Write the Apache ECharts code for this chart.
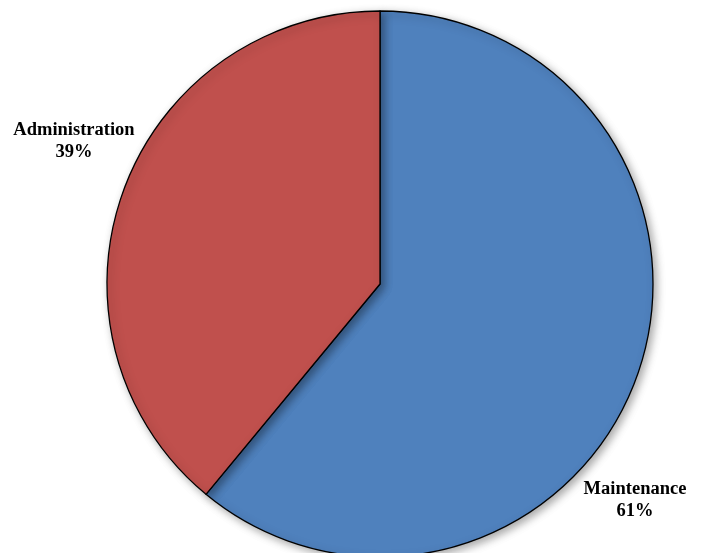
<!DOCTYPE html>
<html>
<head>
<meta charset="utf-8">
<style>html,body{margin:0;padding:0;background:#fff}#c{width:702px;height:553px}</style>
<script src="https://cdn.jsdelivr.net/npm/echarts@6/dist/echarts.min.js"></script>
</head>
<body>
<div id="c"></div>
<script>
var categories = ['Maintenance', 'Administration'];
var values = [61, 39];
var colors = ['#4F81BD', '#C0504D'];
var labelPos = [[635, 500], [74, 141]];

var chart = echarts.init(document.getElementById('c'), null, {renderer: 'canvas'});
chart.setOption({
  animation: false,
  backgroundColor: '#ffffff',
  series: [{
    type: 'pie',
    center: [380, 284],
    radius: [0, 273],
    startAngle: 90,
    clockwise: true,
    avoidLabelOverlap: false,
    data: categories.map(function (c, i) {
      return {name: c, value: values[i], itemStyle: {color: colors[i]}};
    }),
    itemStyle: {
      borderColor: '#000',
      borderWidth: 1.3,
      shadowBlur: 8,
      shadowOffsetX: 3,
      shadowOffsetY: 3,
      shadowColor: 'rgba(0,0,0,0.35)'
    },
    label: {
      show: true,
      formatter: '{b}\n{d}%',
      fontFamily: '"Liberation Serif", "Times New Roman", serif',
      fontWeight: 'bold',
      fontSize: 18.5,
      lineHeight: 22,
      color: '#000',
      align: 'center'
    },
    labelLine: {show: false},
    labelLayout: function (p) {
      return {x: labelPos[p.dataIndex][0], y: labelPos[p.dataIndex][1], align: 'center', verticalAlign: 'middle'};
    },
    emphasis: {disabled: true}
  }]
});
</script>
</body>
</html>
